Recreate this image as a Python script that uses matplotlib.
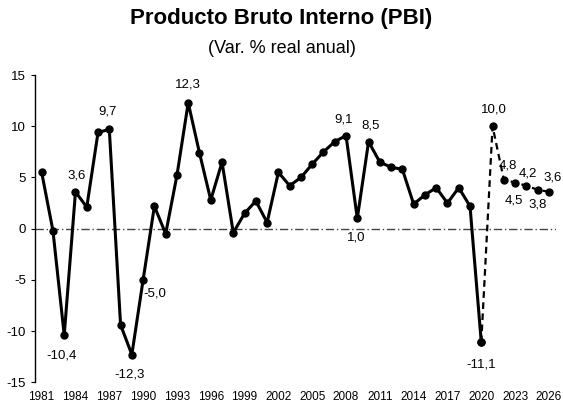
import matplotlib.pyplot as plt

plt.rcParams['font.family'] = ['Liberation Sans', 'DejaVu Sans']
plt.rcParams['axes.unicode_minus'] = False

years = list(range(1981, 2027))
pbi = [5.5, -0.2, -10.4, 3.6, 2.1, 9.4, 9.7, -9.4, -12.3, -5.0,
       2.2, -0.5, 5.2, 12.3, 7.4, 2.8, 6.5, -0.4, 1.5, 2.7,
       0.6, 5.5, 4.2, 5.0, 6.3, 7.5, 8.5, 9.1, 1.0, 8.5,
       6.5, 6.0, 5.8, 2.4, 3.3, 4.0, 2.5, 4.0, 2.2, -11.1,
       10.0, 4.8, 4.5, 4.2, 3.8, 3.6]
last_real = 2020
xticks = list(range(1981, 2027, 3))
yticks = [-15, -10, -5, 0, 5, 10, 15]

# labelled years and their offsets (pixels)
labels = {1983: (-3, -20), 1984: (1, 16), 1987: (-2, 18), 1989: (-2, -20),
          1990: (12, -14), 1994: (0, 18), 2008: (-2, 16), 2009: (-1, -19),
          2010: (2, 16), 2020: (0, -22), 2021: (1, 17), 2022: (4, 14),
          2023: (-1, -18), 2024: (2, 12), 2025: (0, -15), 2026: (4, 14)}

fig = plt.figure(figsize=(5.63, 4.04), dpi=100)
ax = fig.add_axes([0.062, 0.054, 0.925, 0.76])

i = years.index(last_real)
ax.axhline(0, color='#444444', lw=1, ls=(0, (6, 2, 1, 2)), zorder=1)
ax.plot(years[:i + 1], pbi[:i + 1], color='black', lw=2.2, marker='o', ms=5, zorder=3)
ax.plot(years[i:], pbi[i:], color='black', lw=1.6, ls=(0, (3, 2)), marker='o', ms=5, zorder=3)

for y, (dx, dy) in labels.items():
    v = pbi[years.index(y)]
    ax.annotate(f"{v:.1f}".replace('.', ','), (y, v), xytext=(dx, dy),
                textcoords='offset pixels', ha='center', va='center', fontsize=9.5)

ax.set_xlim(1980.4, 2026.6)
ax.set_ylim(-15, 15)
ax.set_xticks(xticks)
ax.set_yticks(yticks)
ax.tick_params(axis='x', length=0, labelsize=8.5, pad=6)
ax.tick_params(axis='y', length=3, labelsize=9.5, direction='out')
for s in ['top', 'right', 'bottom']:
    ax.spines[s].set_visible(False)
ax.spines['left'].set_linewidth(1)

fig.text(0.5, 0.955, 'Producto Bruto Interno (PBI)', ha='center', va='center',
         fontsize=16, fontweight='bold')
fig.text(0.5, 0.88, '(Var. % real anual)', ha='center', va='center', fontsize=13)

plt.savefig('out.png', dpi=100)
